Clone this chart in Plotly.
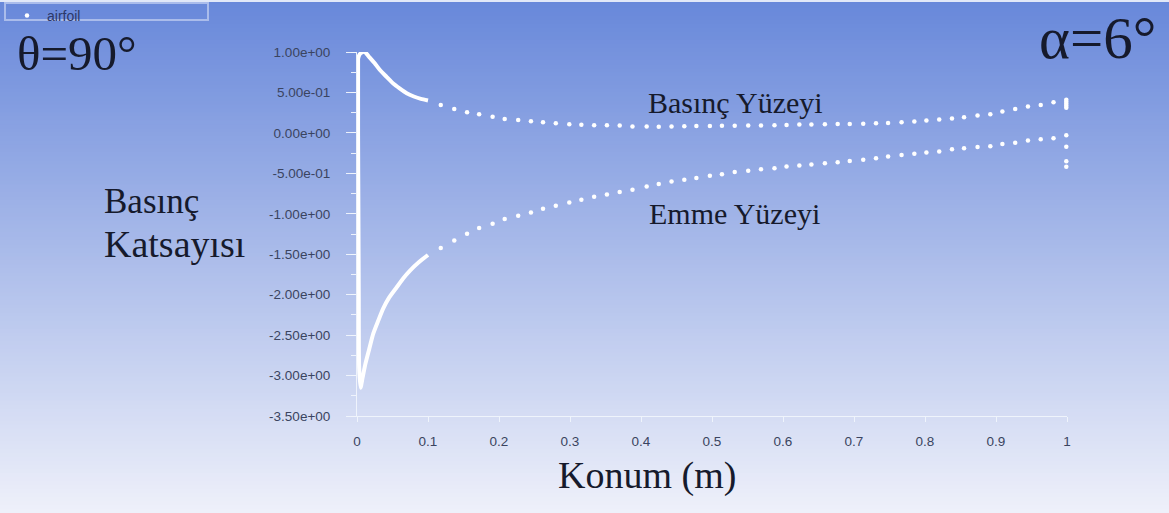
import plotly.graph_objects as go

W, H = 1169, 513

# leading-edge region (dense points, drawn as continuous line)
x_le_pressure = [0.001, 0.003, 0.006, 0.011, 0.018, 0.025, 0.032, 0.042, 0.051,
                 0.060, 0.070, 0.080, 0.090, 0.100]
cp_le_pressure = [0.90, 0.96, 0.99, 1.00, 0.93, 0.86, 0.78, 0.69, 0.61,
                  0.55, 0.49, 0.45, 0.42, 0.40]
x_le_suction = [0.0015, 0.0015, 0.002, 0.0025, 0.003, 0.005, 0.008, 0.012, 0.017,
                0.023, 0.030, 0.037, 0.045, 0.055, 0.065, 0.075, 0.087, 0.100]
cp_le_suction = [0.95, 0.0, -1.0, -2.0, -2.9, -3.15, -3.02, -2.85, -2.68,
                 -2.48, -2.32, -2.17, -2.04, -1.92, -1.80, -1.70, -1.60, -1.51]

# discrete nodes on both surfaces
x_nodes = [0.118, 0.137, 0.155, 0.172, 0.191, 0.208, 0.227, 0.245, 0.262, 0.280,
           0.299, 0.316, 0.334, 0.352, 0.370, 0.388, 0.408, 0.425, 0.443, 0.461,
           0.478, 0.497, 0.514, 0.532, 0.551, 0.569, 0.588, 0.605, 0.623, 0.640,
           0.659, 0.677, 0.694, 0.713, 0.731, 0.748, 0.767, 0.785, 0.802, 0.820,
           0.838, 0.855, 0.874, 0.892, 0.909, 0.927, 0.945, 0.963, 0.981]
cp_pressure = [0.346, 0.296, 0.256, 0.231, 0.201, 0.173, 0.160, 0.144, 0.132, 0.120,
               0.107, 0.102, 0.095, 0.093, 0.090, 0.080, 0.078, 0.077, 0.078, 0.082,
               0.085, 0.086, 0.087, 0.088, 0.090, 0.091, 0.095, 0.099, 0.103, 0.104,
               0.107, 0.110, 0.111, 0.113, 0.120, 0.122, 0.132, 0.140, 0.152, 0.164,
               0.177, 0.194, 0.214, 0.231, 0.263, 0.296, 0.325, 0.346, 0.379]
cp_suction = [-1.424, -1.330, -1.247, -1.177, -1.123, -1.065, -1.025, -0.984, -0.938, -0.901,
              -0.860, -0.827, -0.790, -0.762, -0.732, -0.704, -0.663, -0.633, -0.601, -0.580,
              -0.559, -0.531, -0.510, -0.485, -0.469, -0.448, -0.436, -0.416, -0.404, -0.391,
              -0.374, -0.362, -0.346, -0.333, -0.312, -0.292, -0.272, -0.259, -0.243, -0.231,
              -0.201, -0.189, -0.173, -0.164, -0.136, -0.123, -0.095, -0.078, -0.065]

# trailing edge nodes
x_te = [0.999, 0.999, 0.999, 0.999, 0.999, 0.999, 0.999, 0.999, 0.999]
cp_te = [0.41, 0.385, 0.36, 0.335, 0.31, -0.03, -0.17, -0.35, -0.42]

y_tick_vals = [1.0, 0.5, 0.0, -0.5, -1.0, -1.5, -2.0, -2.5, -3.0, -3.5]
y_tick_text = ["1.00e+00", "5.00e-01", "0.00e+00", "-5.00e-01", "-1.00e+00",
               "-1.50e+00", "-2.00e+00", "-2.50e+00", "-3.00e+00", "-3.50e+00"]
x_tick_vals = [0, 0.1, 0.2, 0.3, 0.4, 0.5, 0.6, 0.7, 0.8, 0.9, 1]


def px(x):
    return x / W


def py(y):
    return 1 - y / H


fig = go.Figure()

for xs, ys in [(x_le_pressure, cp_le_pressure), (x_le_suction, cp_le_suction)]:
    fig.add_trace(go.Scatter(x=xs, y=ys, mode="lines",
                             line=dict(color="white", width=4, shape="spline", smoothing=0.6),
                             showlegend=False, cliponaxis=False, hoverinfo="skip"))

fig.add_trace(go.Scatter(x=x_nodes + x_nodes + x_te,
                         y=cp_pressure + cp_suction + cp_te,
                         mode="markers", name="airfoil",
                         marker=dict(color="white", size=4.5),
                         cliponaxis=False))

# background gradient, blue at top to pale at bottom
top = (104, 136, 218)
bot = (238, 240, 250)
n = 128
shapes = []
for i in range(n):
    t = i / (n - 1)
    c = tuple(round(top[k] + (bot[k] - top[k]) * t) for k in range(3))
    y_hi = 1.02 if i == 0 else 1 - i / n
    y_lo = -0.02 if i == n - 1 else 1 - (i + 1) / n - 0.002
    shapes.append(dict(type="rect", xref="paper", yref="paper", layer="below",
                       x0=-0.02, x1=1.02, y0=y_lo, y1=y_hi,
                       fillcolor="rgb(%d,%d,%d)" % c, line=dict(width=0)))
shapes.append(dict(type="rect", xref="paper", yref="paper", layer="below",
                   x0=-0.02, x1=1.02, y0=py(2), y1=1.02, fillcolor="rgb(225,232,248)",
                   line=dict(width=0)))
# legend frame
shapes.append(dict(type="rect", xref="paper", yref="paper", layer="above",
                   x0=px(5), x1=px(208), y0=py(20), y1=py(3),
                   fillcolor="rgba(0,0,0,0)",
                   line=dict(color="rgb(170,188,235)", width=2)))

serif = "Liberation Serif, Times New Roman, serif"
txt = "#161a2c"
annotations = [
    dict(text="θ=90°", x=px(15), y=py(53), xanchor="left", yanchor="middle",
         font=dict(family=serif, size=49, color=txt)),
    dict(text="α=6°", x=px(1158), y=py(38), xanchor="right", yanchor="middle",
         font=dict(family=serif, size=59, color=txt)),
    dict(text="Basınç Yüzeyi", x=px(735), y=py(102), xanchor="center", yanchor="middle",
         font=dict(family=serif, size=30, color=txt)),
    dict(text="Emme Yüzeyi", x=px(734), y=py(213), xanchor="center", yanchor="middle",
         font=dict(family=serif, size=30, color=txt)),
    dict(text="Basınç", x=px(102), y=py(201), xanchor="left", yanchor="middle",
         font=dict(family=serif, size=35, color=txt)),
    dict(text="Katsayısı", x=px(102), y=py(244), xanchor="left", yanchor="middle",
         font=dict(family=serif, size=38, color=txt)),
    dict(text="Konum (m)", x=px(647), y=py(475), xanchor="center", yanchor="middle",
         font=dict(family=serif, size=38, color=txt)),
]
for a in annotations:
    a.update(xref="paper", yref="paper", showarrow=False)

tickfont = dict(family="Liberation Sans, Arial, sans-serif", size=13.5, color="#3a4460")
axcol = "rgba(240,244,252,0.95)"

fig.update_layout(
    width=W, height=H,
    margin=dict(l=0, r=0, t=0, b=0, pad=0, autoexpand=False),
    paper_bgcolor="rgb(238,240,250)",
    plot_bgcolor="rgba(0,0,0,0)",
    shapes=shapes,
    annotations=annotations,
    showlegend=True,
    legend=dict(x=px(7), y=py(0), xanchor="left", yanchor="top",
                bgcolor="rgba(0,0,0,0)", borderwidth=0,
                font=dict(family="Liberation Sans, Arial, sans-serif", size=14,
                          color="#2c3868")),
    xaxis=dict(domain=[px(357), px(1067)], range=[0, 1], automargin=False,
               tickvals=x_tick_vals, showgrid=False, zeroline=False,
               showline=True, linecolor=axcol, linewidth=1,
               ticks="outside", ticklen=5, tickcolor=axcol,
               ticklabelstandoff=8, tickfont=tickfont),
    yaxis=dict(domain=[py(416), py(52)], range=[-3.5, 1.0], automargin=False,
               tickvals=y_tick_vals, ticktext=y_tick_text,
               showgrid=False, zeroline=False,
               showline=True, linecolor=axcol, linewidth=1,
               ticks="outside", ticklen=10, tickcolor=axcol,
               minor=dict(tick0=0, dtick=0.25, ticks="outside", ticklen=5,
                          tickcolor=axcol),
               ticklabelstandoff=13, tickfont=tickfont),
)

page_js = """
document.documentElement.style.margin = '0';
document.body.style.margin = '0';
document.documentElement.style.overflow = 'hidden';
var gd = document.getElementById('{plot_id}');
gd.style.position = 'fixed';
gd.style.left = '0px';
gd.style.top = '0px';
"""
fig.write_html("out.html", config={"displayModeBar": False}, post_script=page_js)
